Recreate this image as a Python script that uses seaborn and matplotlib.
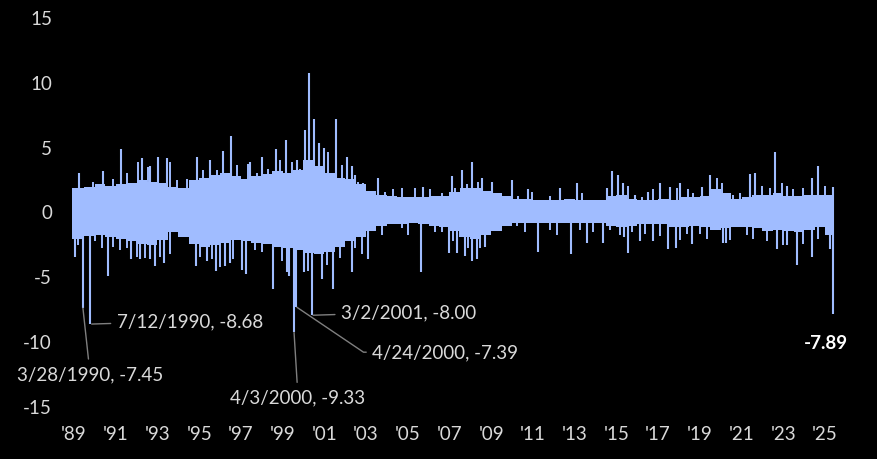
import matplotlib
matplotlib.use("Agg")
import matplotlib.pyplot as plt
import numpy as np
import seaborn as sns

# ---------------------------------------------------------------------------
# Data (daily % change, 1989 - Apr 2025)
# ---------------------------------------------------------------------------
data_start = 1988.9
data_end = 2025.39

# dense core of the daily moves, per half year (1989.0 ... 2025.0)
body_start = np.arange(1989.0, 2025.01, 0.5)
body_hi = [
    1.8, 1.9, 2.1, 2.0, 2.1, 2.2, 2.4, 2.3, 2.2, 1.9,   # 1989-93
    1.8, 2.4, 2.6, 2.8, 3.0, 2.7, 2.5, 2.7, 2.9, 3.1,   # 1994-98
    3.0, 3.2, 4.0, 3.5, 3.0, 2.6, 2.5, 2.1, 1.6, 1.3,   # 1999-2003
    1.2, 1.1, 1.1, 1.1, 1.2, 1.2, 1.5, 1.8, 1.8, 1.6,   # 2004-08
    1.4, 1.2, 1.0, 1.0, 0.9, 0.9, 0.9, 1.0, 0.9, 0.9,   # 2009-13
    0.9, 1.2, 1.3, 1.0, 0.9, 0.9, 1.0, 0.9, 1.1, 1.1,   # 2014-18
    1.2, 1.7, 1.4, 1.0, 1.1, 1.3, 1.3, 1.4, 1.2, 1.2,   # 2019-23
    1.3, 1.3, 1.3,                                      # 2024-25
]
body_lo = [
    -2.1, -1.9, -1.8, -2.0, -2.1, -2.3, -2.5, -2.6, -2.2, -1.6,
    -2.0, -2.5, -2.7, -2.6, -2.4, -2.2, -2.3, -2.4, -2.5, -2.7,
    -2.8, -3.0, -3.2, -3.3, -3.1, -2.7, -2.3, -2.0, -1.5, -1.1,
    -1.0, -1.0, -0.9, -1.0, -1.1, -1.2, -1.5, -2.0, -2.1, -1.8,
    -1.5, -1.1, -0.9, -0.9, -0.9, -0.9, -0.9, -0.9, -0.9, -0.9,
    -0.9, -1.1, -1.2, -1.1, -1.0, -1.0, -1.0, -1.2, -1.2, -1.1,
    -1.2, -1.4, -1.3, -1.2, -1.2, -1.3, -1.5, -1.4, -1.5, -1.6,
    -1.4, -1.2, -1.8,
]

# big single-day spikes
up_t = [1989.24, 1990.39, 1991.25, 1992.26, 1992.64, 1993.03, 1993.46, 1994.90,
        1995.52, 1996.14, 1996.53, 1997.44, 1998.01, 1998.68, 1999.16, 1999.69,
        2000.07, 2000.27, 2000.51, 2000.74, 2000.98, 2001.56, 2002.09, 2002.33,
        2002.47, 2002.85, 2003.57, 2005.73, 2007.12, 2007.60, 2008.08, 2008.56,
        2009.04, 2010.00, 2010.76, 2012.30, 2013.11, 2014.55, 2014.79, 2015.08,
        2015.32, 2015.89, 2016.52, 2017.09, 2017.57, 2018.05, 2019.11, 2019.49,
        2021.41, 2021.65, 2022.61, 2023.18, 2024.38, 2024.67, 2025.39]
up_v = [3.0, 3.1, 4.8, 4.1, 3.5, 4.2, 4.1, 4.2,
        4.0, 4.7, 5.8, 3.8, 4.2, 4.8, 5.5, 4.0,
        6.3, 10.7, 7.1, 5.3, 4.9, 7.1, 4.2, 3.5,
        2.8, 2.2, 2.6, 1.9, 2.7, 3.2, 3.8, 2.6,
        2.3, 2.4, 1.7, 1.8, 2.2, 1.8, 3.1, 2.8,
        2.2, 1.3, 1.5, 2.2, 1.9, 2.2, 1.9, 2.8,
        2.9, 3.0, 4.6, 2.0, 2.6, 3.5, 1.9]

down_t = [1989.05, 1989.43, 1989.77, 1990.63, 1991.73, 1992.16, 1992.64, 1992.88,
          1993.31, 1994.85, 1995.38, 1995.81, 1996.24, 1996.48, 1997.05, 1997.25,
          1998.54, 1999.21, 1999.31, 1999.55, 1999.64, 2000.03, 2000.41, 2000.89,
          2001.42, 2002.33, 2003.09, 2005.63, 2006.98, 2007.36, 2007.74, 2008.08,
          2008.32, 2008.70, 2011.24, 2012.83, 2013.59, 2014.36, 2015.37, 2015.56,
          2016.13, 2016.76, 2017.48, 2017.86, 2018.63, 2020.11, 2020.26, 2022.70,
          2023.18, 2023.66, 2024.38, 2025.24, 2025.39]
down_v = [-3.5, -7.45, -8.68, -5.0, -3.7, -3.7, -3.7, -4.2,
          -4.0, -4.2, -3.8, -4.6, -4.2, -4.0, -4.5, -4.8,
          -6.0, -4.7, -5.0, -9.33, -7.39, -4.7, -8.00, -5.2,
          -6.0, -4.7, -3.7, -4.7, -3.2, -3.2, -3.4, -3.8,
          -3.7, -2.7, -3.1, -3.3, -2.4, -2.4, -2.0, -3.2,
          -2.3, -2.3, -2.9, -2.8, -2.5, -2.4, -2.4, -2.9,
          -2.6, -4.1, -3.5, -2.9, -7.89]

# smaller spikes along the edge of the core
minor_up_t = [1989.91, 1990.87, 1991.54, 1992.07, 1992.55, 1993.60, 1993.94, 1994.42,
              1995.18, 1995.86, 1996.81, 1997.34, 1997.77, 1998.30, 1998.88, 1999.45,
              1999.83, 2001.18, 2001.85, 2002.61, 2003.91, 2004.29, 2004.72, 2005.35,
              2006.07, 2006.64, 2007.26, 2007.84, 2008.37, 2010.28, 2010.96, 2011.82,
              2013.35, 2015.56, 2016.23, 2016.76, 2017.91, 2018.43, 2018.67, 2019.82,
              2020.06, 2020.59, 2020.93, 2021.98, 2022.37, 2022.94, 2023.47, 2023.95,
              2025.00]
minor_up_v = [2.3, 2.5, 3.0, 3.8, 3.4, 3.8, 2.4, 2.5,
              3.2, 3.2, 3.6, 3.7, 3.0, 3.3, 4.0, 3.8,
              3.3, 4.6, 3.6, 2.3, 1.5, 1.7, 1.8, 1.8,
              1.7, 1.4, 1.8, 2.1, 2.3, 1.2, 1.5, 1.2,
              1.4, 2.0, 1.1, 1.7, 1.8, 1.7, 1.4, 2.6,
              2.2, 1.3, 1.4, 2.0, 1.8, 2.2, 1.7, 1.8,
              2.0]

minor_down_t = [1989.19, 1990.01, 1990.34, 1990.87, 1991.21, 1991.54, 1992.02, 1992.40,
                1993.12, 1993.60, 1995.04, 1995.62, 1996.00, 1996.62, 1997.68, 1998.01,
                1998.97, 2000.22, 2001.13, 2001.75, 2002.47, 2002.81, 2003.77, 2004.72,
                2005.01, 2006.31, 2006.64, 2007.17, 2007.50, 2007.89, 2008.46, 2009.42,
                2010.24, 2010.62, 2011.82, 2012.15, 2013.26, 2013.88, 2014.70, 2015.17,
                2015.75, 2016.37, 2017.09, 2018.05, 2018.39, 2019.01, 2019.35, 2020.45,
                2021.26, 2021.55, 2022.22, 2022.99, 2023.95, 2024.67]
minor_down_v = [-2.6, -2.3, -2.8, -2.7, -3.0, -2.8, -3.5, -3.6,
                -3.5, -3.3, -3.5, -3.7, -4.3, -3.7, -3.0, -3.1,
                -3.8, -4.6, -4.1, -3.6, -2.8, -3.3, -1.8, -1.3,
                -1.8, -1.6, -1.6, -2.3, -2.0, -2.8, -2.8, -1.4,
                -1.1, -1.6, -1.4, -1.8, -1.4, -1.6, -1.4, -1.8,
                -1.6, -1.7, -1.9, -2.2, -1.7, -1.7, -2.1, -2.2,
                -1.8, -2.1, -2.3, -2.6, -2.5, -2.1]

tick_years = [1989, 1991, 1993, 1995, 1997, 1999, 2001, 2003, 2005, 2007,
              2009, 2011, 2013, 2015, 2017, 2019, 2021, 2023, 2025]
tick_labels = ["'89", "'91", "'93", "'95", "'97", "'99", "'01", "'03", "'05", "'07",
               "'09", "'11", "'13", "'15", "'17", "'19", "'21", "'23", "'25"]
y_ticks = [-15, -10, -5, 0, 5, 10, 15]

# ---------------------------------------------------------------------------
sns.set_theme(style="dark", rc={
    "figure.facecolor": "black",
    "axes.facecolor": "black",
    "axes.edgecolor": "black",
    "text.color": "#d9d9d9",
    "xtick.color": "#d9d9d9",
    "ytick.color": "#d9d9d9",
    "axes.unicode_minus": False,
})
plt.rcParams["font.family"] = ["Lato", "DejaVu Sans"]

BLUE = "#a0bcff"
LEADER = "#7f7f7f"
TXT = "#d9d9d9"
FS = 13.5

fig = plt.figure(figsize=(8.77, 4.60), dpi=100)
ax = fig.add_axes([70 / 877, 53 / 460, 770 / 877, 389 / 460])

# core as a stepped band
edges = [data_start] + list(body_start[1:]) + [data_end]
hi = list(body_hi) + [body_hi[-1]]
lo = list(body_lo) + [body_lo[-1]]
ax.fill_between(edges, lo, hi, step="post", color=BLUE, lw=0)

# spikes
ax.vlines(minor_up_t, 0, minor_up_v, color=BLUE, lw=1.4)
ax.vlines(minor_down_t, 0, minor_down_v, color=BLUE, lw=1.4)
ax.vlines(up_t, 0, up_v, color=BLUE, lw=1.5)
ax.vlines(down_t, 0, down_v, color=BLUE, lw=1.5)

# labelled extremes
lkw = dict(fontsize=FS, color=TXT)
apk = dict(arrowstyle="-", color=LEADER, lw=1, shrinkA=2, shrinkB=0)
ax.annotate("3/28/1990, -7.45", xy=(down_t[1], down_v[1]), xytext=(1989.77, -12.5),
            ha="center", va="center", arrowprops=apk, **lkw)
ax.annotate("7/12/1990, -8.68", xy=(down_t[2] + 0.08, down_v[2]), xytext=(1991.05, -8.45),
            ha="left", va="center", arrowprops=apk, **lkw)
ax.annotate("4/3/2000, -9.33", xy=(down_t[19], down_v[19]), xytext=(1999.74, -14.3),
            ha="center", va="center", arrowprops=apk, **lkw)
ax.annotate("4/24/2000, -7.39", xy=(down_t[20] + 0.05, down_v[20]), xytext=(2003.3, -10.85),
            ha="left", va="center",
            arrowprops=dict(apk, connectionstyle="angle,angleA=0,angleB=-34,rad=0"), **lkw)
ax.annotate("3/2/2001, -8.00", xy=(down_t[22] + 0.05, down_v[22]), xytext=(2001.8, -7.77),
            ha="left", va="center", arrowprops=apk, **lkw)
ax.text(2025.05, -10.1, f"{down_v[-1]:.2f}", ha="center", va="center",
        fontsize=FS, fontweight="bold", color="white")

ax.set_xlim(1988.81, 2025.72)
ax.set_ylim(-15, 15)
ax.set_xticks(tick_years)
ax.set_xticklabels(tick_labels)
ax.set_yticks(y_ticks)
ax.tick_params(axis="both", length=0, labelsize=FS)
ax.tick_params(axis="y", pad=13)
ax.tick_params(axis="x", pad=14)
ax.grid(False)
sns.despine(ax=ax, left=True, bottom=True)

fig.savefig("out.png", dpi=100, facecolor="black")
